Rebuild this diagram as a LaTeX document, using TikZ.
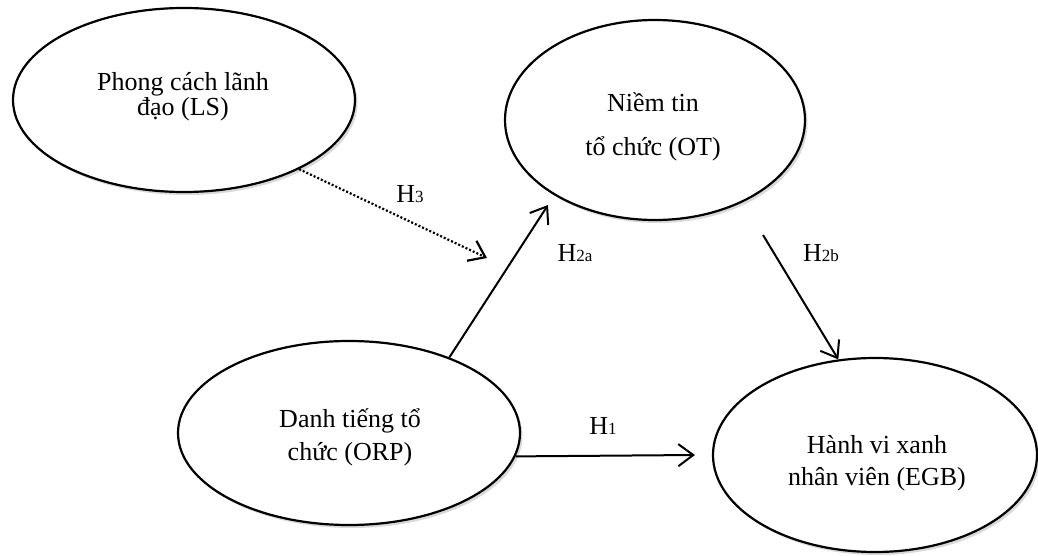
\documentclass[tikz,border=0pt]{standalone}
\usepackage{fontspec}
\setmainfont{Liberation Serif}
\usetikzlibrary{shapes.geometric,arrows.meta,shadows}
\newcommand\hsub[1]{{\fontsize{17}{17}\selectfont #1}}
\begin{document}
\begin{tikzpicture}[x=1pt,y=-1pt,
  blob/.style={ellipse,draw,line width=2.2pt,fill=white,inner sep=0pt,
    drop shadow={opacity=0.3,shadow xshift=2.5pt,shadow yshift=-3pt}},
  blobtext/.style={align=center,inner sep=0pt},
  conn/.style={line width=2pt,-{Straight Barb[length=15pt,width=22pt]}},
  hyp/.style={font=\fontsize{26}{26}\selectfont,inner sep=0pt}]
\useasboundingbox (0,0) rectangle (1038,556);
\node[blob,minimum width=342pt,minimum height=184pt] (LS) at (184,100) {};
\node[blob,minimum width=300pt,minimum height=200pt] (OT) at (655,120) {};
\node[blob,minimum width=342pt,minimum height=184pt] (ORP) at (349,433) {};
\node[blob,minimum width=324pt,minimum height=194pt] (EGB) at (875,455) {};
\node[blobtext,font=\fontsize{26}{25}\selectfont] (LSt) at (183,97) {Phong cách lãnh\\đạo (LS)};
\node[blobtext,font=\fontsize{26}{44}\selectfont] (OTt) at (653,127) {Niềm tin\\tổ chức (OT)};
\node[blobtext,font=\fontsize{26}{33}\selectfont] (ORPt) at (350,437) {Danh tiếng tổ\\chức (ORP)};
\node[blobtext,font=\fontsize{26}{32}\selectfont] (EGBt) at (877,463) {Hành vi xanh\\nhân viên (EGB)};
\coordinate (h3tip) at (487,258);
\coordinate (h2atip) at (548,205);
\coordinate (h2bstart) at (763,235);
\coordinate (h1tip) at (695,455);
\draw[conn,line width=2.2pt,dash pattern=on 2pt off 2pt] (LS.-31) -- (h3tip);
\draw[conn] (ORP.37) -- (h2atip);
\draw[conn] (h2bstart) -- (EGB.111);
\draw[conn] (ORP.-8) -- (h1tip);
\node[hyp] (l3) at (410,194) {H\hsub{3}};
\node[hyp] (l2a) at (575,253) {H\hsub{2a}};
\node[hyp] (l2b) at (821,253) {H\hsub{2b}};
\node[hyp] (l1) at (603,426) {H\hsub{1}};
\end{tikzpicture}
\end{document}
